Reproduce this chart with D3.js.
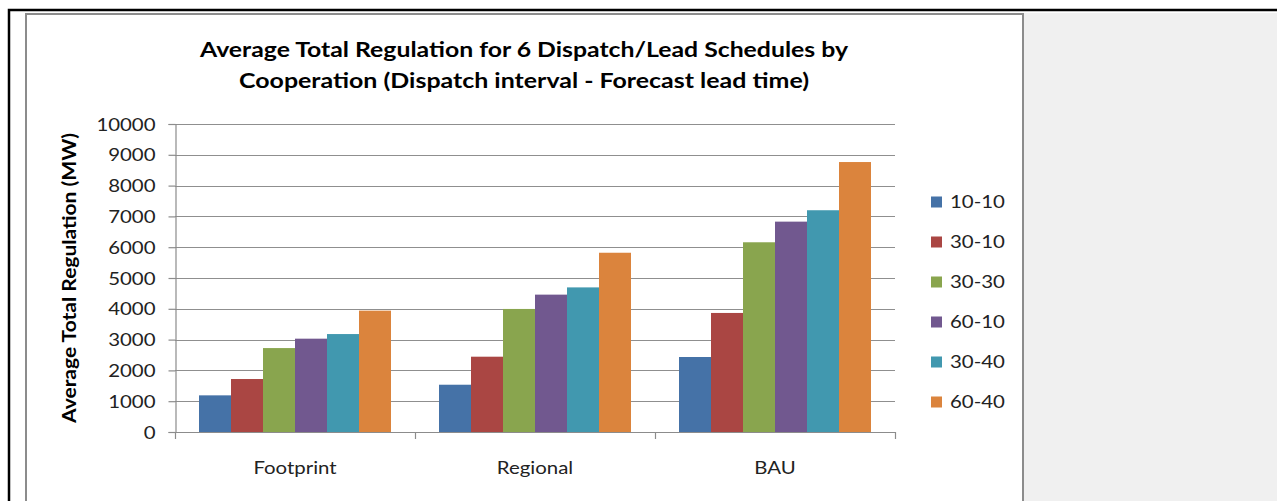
<!DOCTYPE html>
<html lang="en">
<head>
    <meta charset="UTF-8"/>
    <title>Average Total Regulation</title>
    <script src="https://d3js.org/d3.v7.min.js"></script>
    <style>
        body { margin: 0; background: #fff; }
        text { font-family: Lato, "Open Sans", sans-serif; }
    </style>
</head>
<body>
<script>
    // data
    var categories = ["Footprint", "Regional", "BAU"];
    var seriesNames = ["10-10", "30-10", "30-30", "60-10", "30-40", "60-40"];
    var s10_10 = [1190, 1535, 2435];
    var s30_10 = [1720, 2445, 3865];
    var s30_30 = [2725, 3995, 6160];
    var s60_10 = [3030, 4460, 6830];
    var s30_40 = [3180, 4695, 7200];
    var s60_40 = [3940, 5820, 8765];
    var seriesValues = [s10_10, s30_10, s30_30, s60_10, s30_40, s60_40];
    var colors = ["#4572A7", "#AA4643", "#89A54E", "#71588F", "#4198AF", "#DB843D"];
    var yTicks = [0, 1000, 2000, 3000, 4000, 5000, 6000, 7000, 8000, 9000, 10000];
    var titleLines = ["Average Total Regulation for 6 Dispatch/Lead Schedules by",
                      "Cooperation (Dispatch interval - Forecast lead time)"];
    var yTitle = "Average Total Regulation (MW)";

    var W = 1277, H = 501;
    var stretch = 1.2; // reference text looks horizontally stretched

    var svg = d3.select("body").append("svg")
        .attr("width", W).attr("height", H);

    // page / frame
    svg.append("rect").attr("x", 1024).attr("y", 13).attr("width", W - 1024).attr("height", H - 13)
        .attr("fill", "#f0f0f0");
    svg.append("path").attr("d", "M9,501 V10 H1277").attr("fill", "none")
        .attr("stroke", "#000").attr("stroke-width", 2.5);
    svg.append("path").attr("d", "M26,501 V14 H1023 V501").attr("fill", "none")
        .attr("stroke", "#8c8c8c").attr("stroke-width", 2);

    var x = d3.scaleBand().domain(categories).range([175, 895])
        .paddingInner(0.2).paddingOuter(0.1);
    var xs = d3.scaleBand().domain(seriesNames).range([0, x.bandwidth()]);
    var y = d3.scaleLinear().domain([0, 10000]).range([432, 124]);

    // gridlines
    svg.append("g").selectAll("line").data(yTicks.filter(function (d) { return d > 0; }))
        .enter().append("line")
        .attr("x1", 175).attr("x2", 895)
        .attr("y1", function (d) { return Math.round(y(d)) + 0.5; })
        .attr("y2", function (d) { return Math.round(y(d)) + 0.5; })
        .attr("stroke", "#8f8f8f").attr("stroke-width", 1.2);

    // bars
    seriesValues.forEach(function (vals, si) {
        svg.append("g").selectAll("rect").data(vals).enter().append("rect")
            .attr("x", function (d, i) { return x(categories[i]) + xs(seriesNames[si]); })
            .attr("y", function (d) { return y(d); })
            .attr("width", xs.bandwidth())
            .attr("height", function (d) { return y(0) - y(d); })
            .attr("fill", colors[si]);
    });

    // y axis
    var yAxis = svg.append("g").attr("transform", "translate(175.5,0)")
        .call(d3.axisLeft(y).tickValues(yTicks).tickSize(7).tickPadding(13).tickFormat(d3.format("d")));
    yAxis.selectAll("path, line").attr("stroke", "#8c8c8c").attr("stroke-width", 1.2);
    yAxis.selectAll("text")
        .attr("font-size", "17px").attr("fill", "#222")
        .attr("transform", "scale(" + stretch + ",1)")
        .attr("x", -20 / stretch).attr("dy", "0.36em");

    // x axis
    var xg = svg.append("g");
    xg.append("line").attr("x1", 175).attr("x2", 895).attr("y1", 432.5).attr("y2", 432.5)
        .attr("stroke", "#8c8c8c").attr("stroke-width", 1.2);
    var bounds = categories.map(function (c) { return x(c) - x.step() * x.paddingInner() / 2; });
    bounds.push(895);
    xg.selectAll("line.tk").data(bounds).enter().append("line").attr("class", "tk")
        .attr("x1", function (d) { return Math.round(d) + 0.5; })
        .attr("x2", function (d) { return Math.round(d) + 0.5; })
        .attr("y1", 432).attr("y2", 439)
        .attr("stroke", "#8c8c8c").attr("stroke-width", 1.2);
    xg.selectAll("text").data(categories).enter().append("text")
        .attr("transform", function (d) {
            return "translate(" + (x(d) + x.bandwidth() / 2) + ",474) scale(" + stretch + ",1)";
        })
        .attr("text-anchor", "middle").attr("font-size", "17px").attr("fill", "#222")
        .text(function (d) { return d; });

    // title
    var titleLen = [648, 570];
    svg.append("g").selectAll("text").data(titleLines).enter().append("text")
        .attr("x", 524).attr("y", function (d, i) { return 57 + i * 31; })
        .attr("text-anchor", "middle").attr("font-size", "21.5px").attr("font-weight", "bold")
        .attr("fill", "#000")
        .attr("textLength", function (d, i) { return titleLen[i]; })
        .attr("lengthAdjust", "spacingAndGlyphs")
        .text(function (d) { return d; });

    // y title
    svg.append("text")
        .attr("transform", "translate(76,278) rotate(-90)")
        .attr("text-anchor", "middle").attr("font-size", "18px").attr("font-weight", "bold")
        .attr("fill", "#000")
        .attr("textLength", 290).attr("lengthAdjust", "spacingAndGlyphs")
        .text(yTitle);

    // legend
    var leg = svg.append("g").selectAll("g").data(seriesNames).enter().append("g")
        .attr("transform", function (d, i) { return "translate(931," + (202 + i * 40) + ")"; });
    leg.append("rect").attr("x", 0).attr("y", -5.5).attr("width", 11).attr("height", 11)
        .attr("fill", function (d, i) { return colors[i]; });
    leg.append("text")
        .attr("transform", "translate(19,6) scale(" + stretch + ",1)")
        .attr("font-size", "17px").attr("fill", "#222")
        .text(function (d) { return d; });
</script>
</body>
</html>
